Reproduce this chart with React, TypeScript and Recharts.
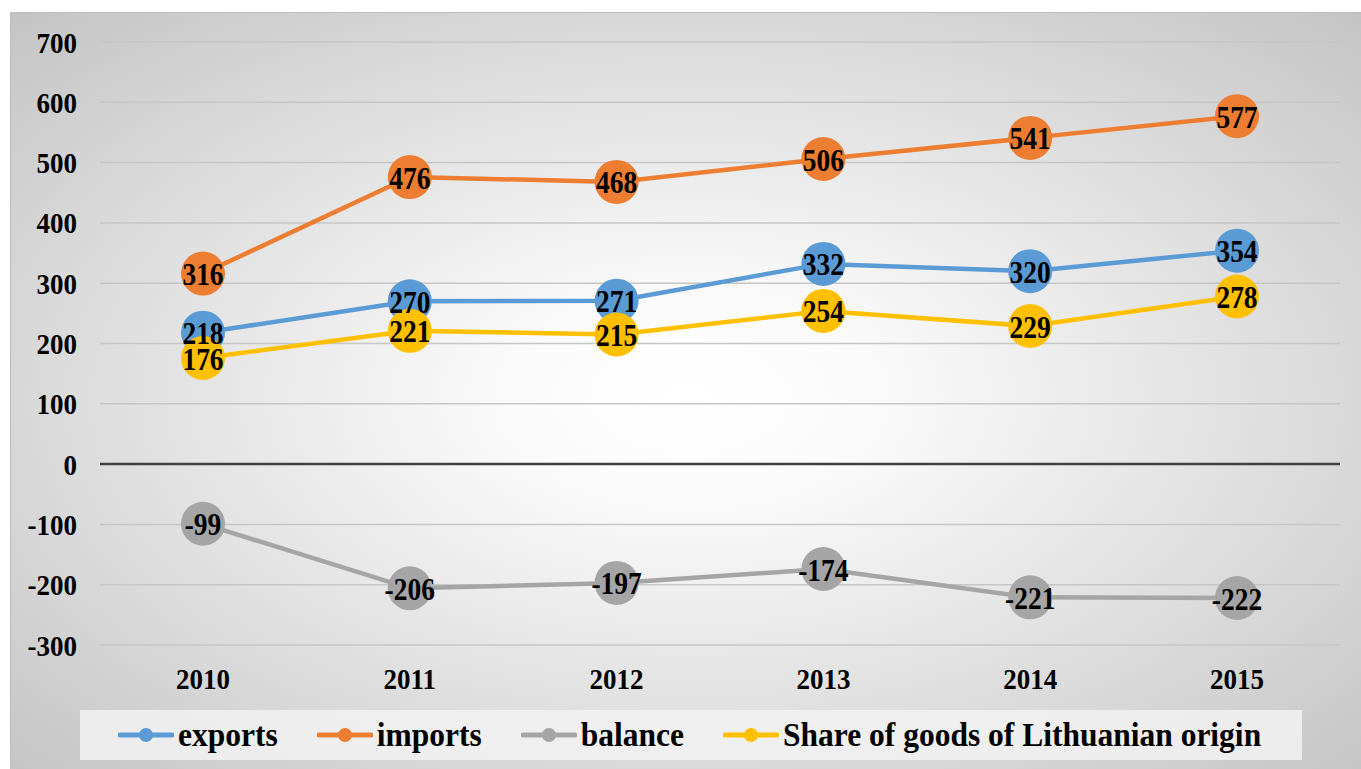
import React from "react";
import { LineChart, Line, XAxis, YAxis, CartesianGrid, ReferenceLine, LabelList } from "recharts";

const years = ["2010", "2011", "2012", "2013", "2014", "2015"];
const exportsVals = [218, 270, 271, 332, 320, 354];
const importsVals = [316, 476, 468, 506, 541, 577];
const balanceVals = [-99, -206, -197, -174, -221, -222];
const shareVals = [176, 221, 215, 254, 229, 278];
const yTicks = [-300, -200, -100, 0, 100, 200, 300, 400, 500, 600, 700];

const seriesDefs = [
  { key: "exports", name: "exports", color: "#5B9BD5" },
  { key: "imports", name: "imports", color: "#ED7D31" },
  { key: "balance", name: "balance", color: "#A5A5A5" },
  { key: "share", name: "Share of goods of Lithuanian origin", color: "#FFC000" },
];

const data = years.map((y, i) => ({
  year: y,
  exports: exportsVals[i],
  imports: importsVals[i],
  balance: balanceVals[i],
  share: shareVals[i],
}));

const FONT = "'Liberation Serif', 'Times New Roman', serif";

const StretchText = (props: any) => {
  const { x, y, anchor, size, children } = props;
  return (
    <g transform={`translate(${x},${y}) scale(1,1.12)`}>
      <text x={0} y={0} textAnchor={anchor} dominantBaseline="central" fontFamily={FONT} fontWeight="bold" fontSize={size} fill="#000">
        {children}
      </text>
    </g>
  );
};

const YTick = (props: any) => {
  const { y, payload } = props;
  return <StretchText x={77} y={y} anchor="end" size={27}>{payload.value}</StretchText>;
};

const XTick = (props: any) => {
  const { x, payload } = props;
  return <StretchText x={x} y={678} anchor="middle" size={27}>{payload.value}</StretchText>;
};

const DotLabel = (props: any) => {
  const { x, y, value } = props;
  return <StretchText x={x} y={y + 1} anchor="middle" size={27.5}>{value}</StretchText>;
};

const LegendIcon = ({ color }: { color: string }) => (
  <svg width={56} height={16} style={{ display: "block" }}>
    <line x1={2} y1={8} x2={54} y2={8} stroke={color} strokeWidth={5} strokeLinecap="round" />
    <circle cx={28} cy={8} r={7} fill={color} />
  </svg>
);

export default function App() {
  return (
    <div style={{ position: "fixed", left: 0, top: 0, width: 1361, height: 769, background: "#fff", overflow: "hidden" }}>
      <div
        style={{
          position: "absolute",
          left: 10,
          top: 12,
          width: 1360,
          height: 770,
          borderLeft: "1px solid #bcbcbc",
          borderTop: "1px solid #bcbcbc",
          background: "radial-gradient(ellipse farthest-corner at 50% 50%, #ffffff 0%, #fbfbfb 18%, #c4c4c4 100%)",
        }}
      />
      <div style={{ position: "absolute", left: 0, top: 0 }}>
        <LineChart width={1361} height={769} data={data} margin={{ top: 42, right: 21, bottom: 94, left: 0 }}>
          <CartesianGrid vertical={false} stroke="#c6c6c6" strokeWidth={1.5} />
          <XAxis
            dataKey="year"
            axisLine={false}
            tickLine={false}
            tick={<XTick />}
            height={30}
            interval={0}
            padding={{ left: 103, right: 103 }}
          />
          <YAxis
            domain={[-300, 700]}
            ticks={yTicks}
            width={100}
            axisLine={false}
            tickLine={false}
            tick={<YTick />}
            interval={0}
          />
          <ReferenceLine y={0} stroke="#404040" strokeWidth={2.5} />
          {seriesDefs.map((s) => (
            <Line
              key={s.key}
              dataKey={s.key}
              name={s.name}
              stroke={s.color}
              strokeWidth={4.5}
              dot={{ r: 22, fill: s.color, stroke: "none" }}
              activeDot={false}
              isAnimationActive={false}
            >
              <LabelList dataKey={s.key} content={<DotLabel />} />
            </Line>
          ))}
        </LineChart>
      </div>
      <div
        style={{
          position: "absolute",
          left: 80,
          top: 710,
          width: 1222,
          height: 50,
          background: "rgba(242,242,242,0.85)",
          display: "flex",
          alignItems: "center",
          paddingLeft: 38,
          boxSizing: "border-box",
          fontFamily: FONT,
          fontWeight: "bold",
          fontSize: 31.5,
        }}
      >
        {seriesDefs.map((s, i) => (
          <div key={s.key} style={{ display: "flex", alignItems: "center", marginRight: i < 3 ? 39 : 0 }}>
            <LegendIcon color={s.color} />
            <span style={{ marginLeft: 4, display: "inline-block", transform: "scale(1,1.1)", lineHeight: 1 }}>{s.name}</span>
          </div>
        ))}
      </div>
    </div>
  );
}
